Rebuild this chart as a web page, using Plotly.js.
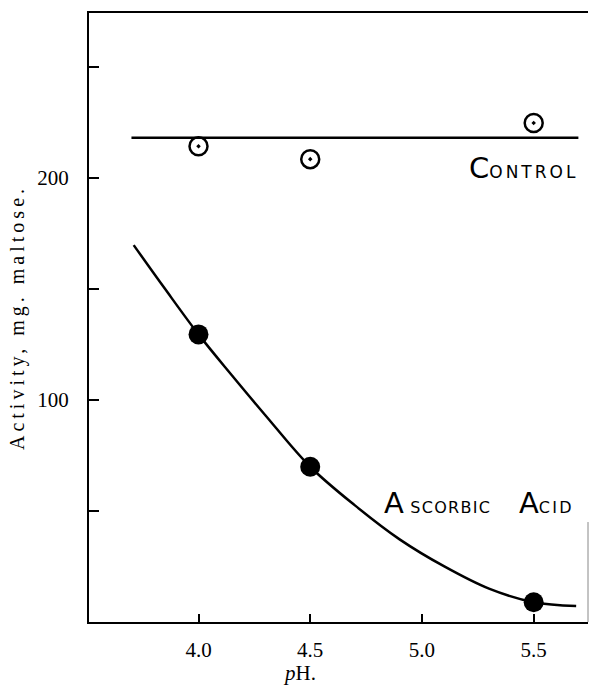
<!DOCTYPE html>
<html>
<head>
<meta charset="utf-8">
<script src="https://cdn.plot.ly/plotly-3.0.1.min.js"></script>
<style>
  html, body { margin: 0; padding: 0; background: #fff; }
  #chart { width: 590px; height: 690px; }
  .ytitle { letter-spacing: 4px; }
</style>
</head>
<body>
<div id="chart"></div>
<script>
// ---- data ----
const controlPH = [4.0, 4.5, 5.5];
const controlActivity = [214.2, 208.4, 224.7];
const controlLinePH = [3.70, 5.70];
const controlLineActivity = [218, 218];

const ascorbicPH = [4.0, 4.5, 5.5];
const ascorbicActivity = [129.5, 69.9, 8.9];
const ascorbicCurvePH = [3.71, 3.85, 4.0, 4.15, 4.3, 4.5, 4.7, 4.9, 5.1, 5.3, 5.5, 5.69];
const ascorbicCurveActivity = [169.7, 150, 129.5, 111, 93, 69.9, 52.5, 37.2, 25, 15, 8.9, 7.2];

const xTickVals = [4.0, 4.5, 5.0, 5.5];
const xTickText = ['4.0', '4.5', '5.0', '5.5'];
const yTickVals = [50, 100, 150, 200, 250];
const yTickText = ['', '100', '', '200', ''];

const serif = 'Liberation Serif, Times New Roman, serif';
const sans = 'DejaVu Sans, sans-serif';

const traces = [
  { x: controlLinePH, y: controlLineActivity, mode: 'lines', type: 'scatter',
    line: { color: '#000', width: 2.5 }, hoverinfo: 'skip', showlegend: false },
  { x: controlPH, y: controlActivity, mode: 'markers', type: 'scatter', name: 'Control',
    marker: { symbol: 'circle-open-dot', size: 18, color: '#000', line: { width: 2.5, color: '#000' } },
    showlegend: false },
  { x: ascorbicCurvePH, y: ascorbicCurveActivity, mode: 'lines', type: 'scatter',
    line: { color: '#000', width: 2.5, shape: 'spline', smoothing: 1 }, hoverinfo: 'skip', showlegend: false },
  { x: ascorbicPH, y: ascorbicActivity, mode: 'markers', type: 'scatter', name: 'Ascorbic Acid',
    marker: { symbol: 'circle', size: 20, color: '#000' }, showlegend: false }
];

const layout = {
  width: 590, height: 690,
  margin: { l: 89, r: 2, t: 13, b: 68 },
  paper_bgcolor: '#fff', plot_bgcolor: '#fff',
  showlegend: false,
  xaxis: {
    range: [3.51, 5.743], tickvals: xTickVals, ticktext: xTickText,
    ticks: 'inside', ticklen: 8, tickwidth: 2, tickcolor: '#000',
    showline: true, linewidth: 2, linecolor: '#000', mirror: true,
    showgrid: false, zeroline: false, ticklabelstandoff: 8,
    tickfont: { family: serif, size: 21, color: '#000' }
  },
  yaxis: {
    range: [0, 274.2], tickvals: yTickVals, ticktext: yTickText,
    ticks: 'inside', ticklen: 10, tickwidth: 2, tickcolor: '#000',
    showline: true, linewidth: 2, linecolor: '#000',
    showgrid: false, zeroline: false, ticklabelstandoff: 14,
    tickfont: { family: serif, size: 21, color: '#000' },
    title: { text: 'Activity, mg. maltose.', standoff: 7, font: { family: serif, size: 20, color: '#000' } }
  },
  annotations: [
    { xref: 'x', yref: 'paper', x: 4.454, y: -0.083, xanchor: 'center', yanchor: 'middle',
      text: '<i>p</i>H.', showarrow: false, font: { family: serif, size: 21, color: '#000' } },
    { xref: 'x', yref: 'y', x: 5.201, y: 196, xanchor: 'left', yanchor: 'bottom', showarrow: false,
      text: 'C<span style="font-size:17px;letter-spacing:3px">ONTROL</span>',
      font: { family: sans, size: 29, color: '#000' } },
    { xref: 'x', yref: 'y', x: 4.821, y: 45, xanchor: 'left', yanchor: 'bottom', showarrow: false,
      text: 'A<span style="font-size:16px;letter-spacing:1.3px"> SCORBIC</span>',
      font: { family: sans, size: 29, color: '#000' } },
    { xref: 'x', yref: 'y', x: 5.425, y: 45, xanchor: 'left', yanchor: 'bottom', showarrow: false,
      text: 'A<span style="font-size:16px;letter-spacing:2.3px">CID</span>',
      font: { family: sans, size: 29, color: '#000' } }
  ],
  shapes: [
    { type: 'line', xref: 'paper', yref: 'y', x0: 1, x1: 1, y0: 0, y1: 45,
      line: { color: '#888', width: 1 } }
  ]
};

Plotly.newPlot('chart', traces, layout, { displayModeBar: false, staticPlot: true });
</script>
</body>
</html>
